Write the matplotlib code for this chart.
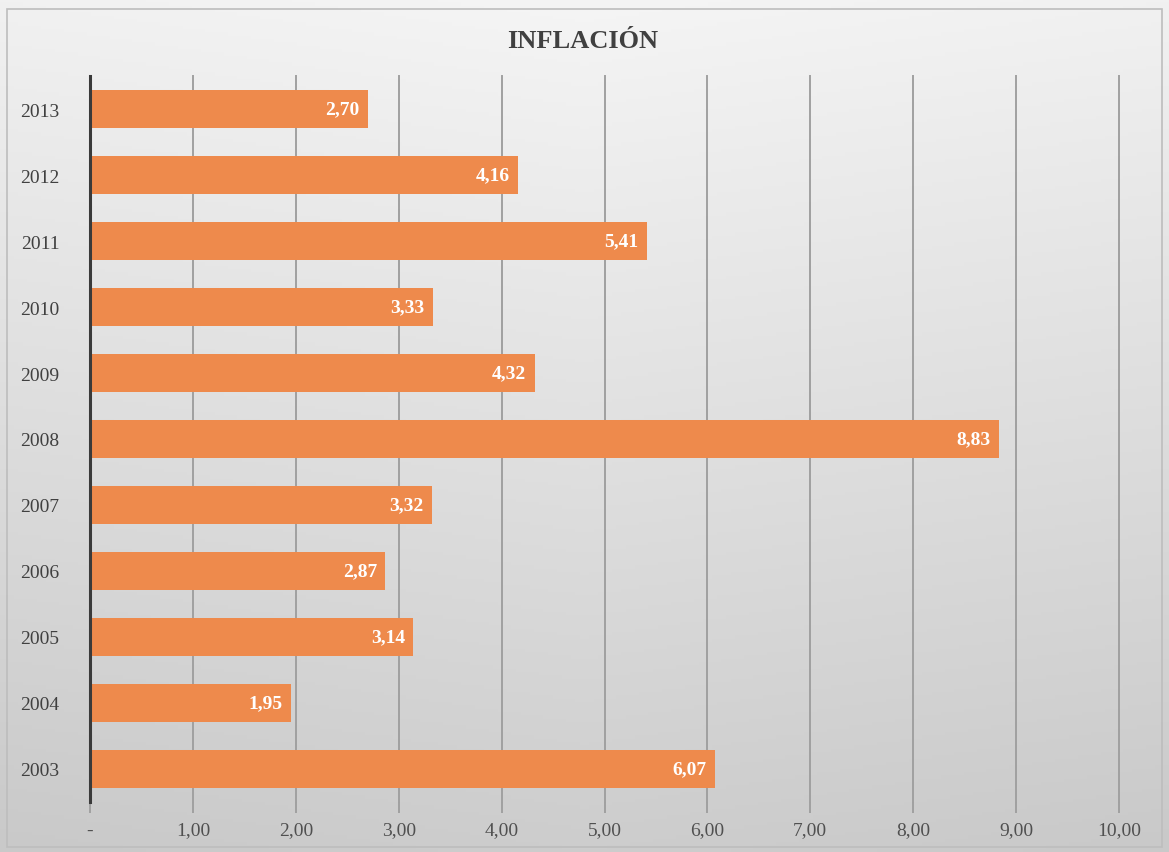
import matplotlib
matplotlib.use("Agg")
import matplotlib.pyplot as plt
import numpy as np

years = ["2003", "2004", "2005", "2006", "2007", "2008",
         "2009", "2010", "2011", "2012", "2013"]
inflation = [6.07, 1.95, 3.14, 2.87, 3.32, 8.83, 4.32, 3.33, 5.41, 4.16, 2.70]
x_ticks = [0, 1, 2, 3, 4, 5, 6, 7, 8, 9, 10]
x_tick_labels = ["-", "1,00", "2,00", "3,00", "4,00", "5,00",
                 "6,00", "7,00", "8,00", "9,00", "10,00"]

bar_color = "#EE8A4C"
plt.rcParams["font.family"] = ["Liberation Serif", "DejaVu Serif"]

fig = plt.figure(figsize=(11.69, 8.53), dpi=100)

# background: soft vertical gradient, light at top, darker towards the bottom
bg = fig.add_axes([0, 0, 1, 1], zorder=-10)
rows = np.linspace(0, 1, 256)[:, None]
cols = np.linspace(0, 1, 256)[None, :]
shade = 245 - 40 * rows - 8 * np.abs(cols - 0.5)
bg.imshow(np.dstack([shade] * 3).astype(np.uint8), aspect="auto",
          extent=[0, 1, 0, 1], origin="upper")
bg.set_xlim(0, 1)
bg.set_ylim(0, 1)
bg.axis("off")
# thin frame round the chart area
bg.add_patch(plt.Rectangle((0.006, 0.006), 0.988, 0.982, fill=False,
                           edgecolor="#bdbdbd", lw=1.2, transform=bg.transAxes))

ax = fig.add_axes([90 / 1169, 1 - 803 / 853, (1119 - 90) / 1169, (803 - 77) / 853])
ax.patch.set_alpha(0)

y = np.arange(len(years))
bars = ax.barh(y, inflation, height=0.57, color=bar_color, zorder=3)

for rect, val in zip(bars, inflation):
    ax.text(rect.get_width() - 0.08, rect.get_y() + rect.get_height() / 2,
            f"{val:.2f}".replace(".", ","), ha="right", va="center",
            color="white", fontsize=14, fontweight="bold", zorder=4)

ax.set_xlim(0, 10)
ax.set_ylim(-0.5, len(years) - 0.5)
ax.set_yticks(y)
ax.set_yticklabels(years, fontsize=14, color="#404040")
ax.set_xticks(x_ticks)
ax.set_xticklabels(x_tick_labels, fontsize=14, color="#505050")
ax.tick_params(axis="y", length=0, pad=22)
ax.tick_params(axis="x", length=8, color="#a0a0a0", width=1.4, pad=6)
ax.grid(axis="x", color="#a0a0a0", lw=1.4, zorder=0)
for line in ax.get_xgridlines():
    line.set_clip_on(False)

for side in ["top", "right", "bottom"]:
    ax.spines[side].set_visible(False)
ax.spines["left"].set_color("#3a3a3a")
ax.spines["left"].set_linewidth(2.2)
ax.spines["left"].set_zorder(5)

fig.text(583 / 1169, 1 - 41 / 853, "INFLACIÓN", ha="center", va="center",
         fontsize=19, fontweight="bold", color="#404040")

fig.savefig("out.png", dpi=100)
